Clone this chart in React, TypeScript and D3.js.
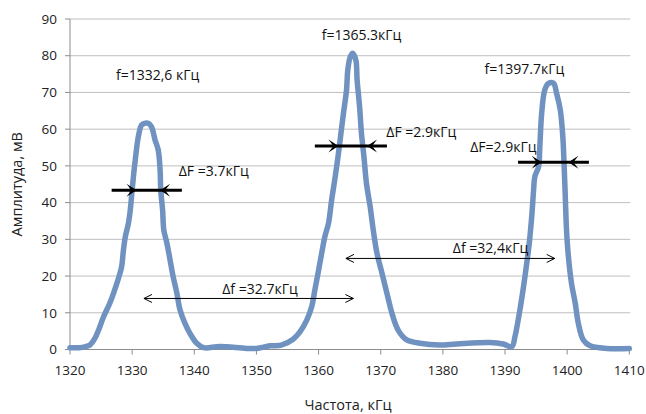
import React from "react";
import * as d3 from "d3";

const freq = [
  1320.0, 1321.5, 1322.5, 1323.2, 1324.0, 1324.6, 1325.4, 1326.4, 1327.0, 1327.8,
  1328.3, 1328.6, 1328.9, 1329.4, 1329.7, 1329.9, 1330.2, 1330.5, 1331.0, 1331.5,
  1332.0, 1332.6, 1333.1, 1333.7, 1334.2, 1334.5, 1334.6, 1334.9, 1335.1, 1335.6,
  1336.1, 1336.6, 1337.2, 1337.7, 1338.5, 1339.3, 1340.4, 1341.5, 1344.1, 1348.4,
  1350.0, 1352.2, 1354.0, 1355.9, 1357.0, 1358.1, 1358.9, 1359.4, 1360.0, 1360.5,
  1361.0, 1361.6, 1362.1, 1362.6, 1363.2, 1363.6, 1364.0, 1364.5, 1364.7, 1365.1,
  1365.5, 1366.0, 1366.2, 1366.6, 1366.9, 1367.3, 1367.7, 1368.3, 1368.8, 1369.4,
  1370.2, 1371.0, 1371.8, 1372.8, 1374.2, 1376.3, 1379.5, 1382.2, 1387.6, 1389.7,
  1391.1, 1391.6, 1392.4, 1392.9, 1393.5, 1393.9, 1394.3, 1394.6, 1394.8, 1395.4,
  1395.6, 1395.9, 1396.4, 1397.0, 1397.8, 1398.3, 1398.9, 1399.3, 1399.5, 1399.7,
  1399.9, 1400.2, 1400.7, 1401.3, 1401.8, 1402.6, 1403.7, 1406.4, 1410.0,
];
const amp = [
  0.5, 0.5, 0.8, 1.2, 3.0, 5.3, 8.9, 12.6, 15.3, 19.4,
  22.5, 27.1, 30.7, 34.4, 38.0, 41.6, 47.0, 51.6, 58.0, 61.1,
  61.6, 61.6, 60.7, 57.0, 54.3, 48.9, 43.5, 38.0, 32.5, 28.9,
  24.4, 19.8, 15.3, 10.8, 7.1, 4.4, 1.7, 0.5, 0.8, 0.3,
  0.3, 1.0, 1.2, 2.8, 4.8, 8.0, 11.7, 16.2, 21.6, 26.2,
  30.7, 34.4, 40.7, 46.2, 53.4, 58.9, 64.3, 70.7, 76.1, 79.7,
  80.7, 78.8, 73.4, 66.1, 58.9, 52.5, 45.3, 38.9, 32.5, 26.2,
  20.8, 15.3, 9.9, 5.3, 2.6, 1.7, 1.2, 1.5, 1.9, 1.5,
  0.8, 3.5, 10.8, 16.2, 23.5, 28.9, 36.2, 43.4, 47.1, 49.8,
  55.2, 64.3, 70.7, 72.5, 72.5, 69.8, 65.2, 58.0, 50.7, 41.6,
  32.5, 25.3, 18.0, 12.6, 7.1, 2.6, 1.0, 0.3, 0.3,
];

const xTicks = [1320, 1330, 1340, 1350, 1360, 1370, 1380, 1390, 1400, 1410];
const yTicks = [0, 10, 20, 30, 40, 50, 60, 70, 80, 90];

// peak labels: [freq, amp, text]
const peakLabels: [number, number, string][] = [
  [1327.4, 73.4, "f=1332,6 кГц"],
  [1360.5, 84.3, "f=1365.3кГц"],
  [1386.7, 75.0, "f=1397.7кГц"],
];
// FWHM arrows: [left end, left tip, right tip, right end, level]
const fwhmArrows: [number, number, number, number, number][] = [
  [1326.7, 1330.7, 1334.5, 1338.0, 43.4],
  [1359.4, 1363.2, 1367.8, 1371.0, 55.4],
  [1392.1, 1395.9, 1400.2, 1403.5, 51.0],
];
const fwhmLabels: [number, number, string][] = [
  [1337.5, 47.2, "ΔF =3.7кГц"],
  [1370.9, 57.8, "ΔF =2.9кГц"],
  [1384.4, 53.8, "ΔF=2.9кГц"],
];
// spacing arrows: [from, to, level]
const spacingArrows: [number, number, number][] = [
  [1331.9, 1365.6, 13.9],
  [1364.4, 1398.0, 24.8],
];
const spacingLabels: [number, number, string][] = [
  [1344.5, 15.2, "Δf =32.7кГц"],
  [1381.6, 26.3, "Δf =32,4кГц"],
];

const W = 646;
const H = 414;
const FONT = "'Open Sans', 'Liberation Sans', sans-serif";

export default function App() {
  const x = d3.scaleLinear().domain([1320, 1410]).range([70, 629.3]);
  const y = d3.scaleLinear().domain([0, 90]).range([349.5, 19]);
  const pts = freq.map((f, i) => [f, amp[i]] as [number, number]);
  const line = d3
    .line<[number, number]>()
    .x((d) => x(d[0]))
    .y((d) => y(d[1]))
    .curve(d3.curveCatmullRom.alpha(0.5));

  const headFilled = (tx: number, ty: number, dir: number) => {
    const L = 10;
    const Hh = 6.5;
    return `M${tx},${ty} L${tx - dir * L},${ty - Hh} L${tx - dir * 5},${ty} L${tx - dir * L},${ty + Hh} Z`;
  };
  const headOpen = (tx: number, ty: number, dir: number) => {
    return `M${tx - dir * 8},${ty - 4} L${tx},${ty} L${tx - dir * 8},${ty + 4}`;
  };

  return (
    <svg
      width={W}
      height={H}
      style={{ position: "absolute", left: 0, top: 0, background: "#fff" }}
      fontFamily={FONT}
    >
      {yTicks.slice(1).map((t) => (
        <line key={"g" + t} x1={x(1320)} x2={x(1410) + 1} y1={y(t)} y2={y(t)} stroke="#bfbfbf" strokeWidth={1} />
      ))}
      <line x1={x(1320)} x2={x(1320)} y1={y(90)} y2={y(0)} stroke="#8c8c8c" />
      <line x1={x(1320)} x2={x(1410) + 1} y1={y(0)} y2={y(0)} stroke="#8c8c8c" />
      {yTicks.map((t) => (
        <g key={"y" + t}>
          <line x1={x(1320) - 5} x2={x(1320)} y1={y(t)} y2={y(t)} stroke="#8c8c8c" />
          <text x={57} y={y(t)} dy="0.35em" textAnchor="end" fontSize={13.5} fill="#222">
            {t}
          </text>
        </g>
      ))}
      {xTicks.map((t) => (
        <g key={"x" + t}>
          <line x1={x(t)} x2={x(t)} y1={y(0)} y2={y(0) + 5} stroke="#8c8c8c" />
          <text x={x(t)} y={375} textAnchor="middle" fontSize={13.5} fill="#222">
            {t}
          </text>
        </g>
      ))}
      <text x={348} y={410} textAnchor="middle" fontSize={14.5} fill="#222">
        Частота, кГц
      </text>
      <text
        transform={`translate(22,${y(45)}) rotate(-90)`}
        textAnchor="middle"
        fontSize={14.5}
        fill="#222"
      >
        Амплитуда, мВ
      </text>

      <path
        d={line(pts) || ""}
        fill="none"
        stroke="#6f92c0"
        strokeWidth={5.5}
        strokeLinejoin="round"
        strokeLinecap="round"
      />

      {spacingArrows.map(([a, b, v], i) => (
        <g key={"s" + i} stroke="#000" fill="none" strokeWidth={1}>
          <line x1={x(a)} x2={x(b)} y1={y(v)} y2={y(v)} />
          <path d={headOpen(x(a), y(v), -1)} />
          <path d={headOpen(x(b), y(v), 1)} />
        </g>
      ))}
      {spacingLabels.map(([f, v, t], i) => (
        <text key={"sl" + i} x={x(f)} y={y(v)} fontSize={14} fill="#111">
          {t}
        </text>
      ))}

      {fwhmArrows.map(([a, ta, tb, b, v], i) => (
        <g key={"f" + i}>
          <line x1={x(a)} x2={x(b)} y1={y(v)} y2={y(v)} stroke="#000" strokeWidth={3} />
          <path d={headFilled(x(ta), y(v), 1)} fill="#000" />
          <path d={headFilled(x(tb), y(v), -1)} fill="#000" />
        </g>
      ))}
      {fwhmLabels.map(([f, v, t], i) => (
        <text key={"fl" + i} x={x(f)} y={y(v)} fontSize={14} fill="#111">
          {t}
        </text>
      ))}

      {peakLabels.map(([f, v, t], i) => (
        <text key={"p" + i} x={x(f)} y={y(v)} fontSize={14} fill="#111">
          {t}
        </text>
      ))}
    </svg>
  );
}
